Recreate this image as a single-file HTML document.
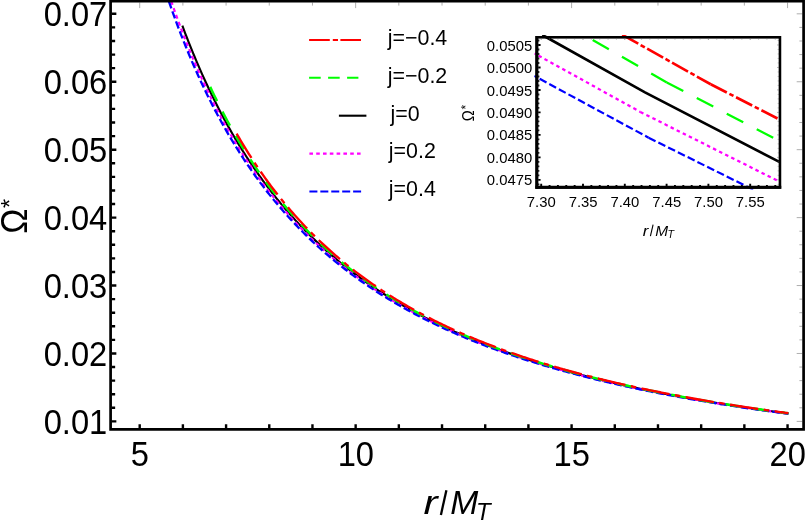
<!DOCTYPE html>
<html><head><meta charset="utf-8"><title>plot</title>
<style>html,body{margin:0;padding:0;background:#fff}body{width:806px;height:521px;overflow:hidden;font-family:"Liberation Sans",sans-serif}svg{display:block;will-change:transform}</style>
</head><body>
<svg width="806" height="521" viewBox="0 0 806 521">
<rect width="806" height="521" fill="#fff"/>
<path d="M139.70 2.50v5.60M182.89 2.50v3.10M226.08 2.50v3.10M269.27 2.50v3.10M312.46 2.50v3.10M355.65 2.50v5.60M398.84 2.50v3.10M442.03 2.50v3.10M485.22 2.50v3.10M528.41 2.50v3.10M571.60 2.50v5.60M614.79 2.50v3.10M657.98 2.50v3.10M701.17 2.50v3.10M744.36 2.50v3.10M787.55 2.50v5.60M802.30 421.40h-5.60M802.30 407.81h-2.90M802.30 394.23h-2.90M802.30 380.64h-2.90M802.30 367.06h-2.90M802.30 353.47h-5.60M802.30 339.88h-2.90M802.30 326.30h-2.90M802.30 312.71h-2.90M802.30 299.13h-2.90M802.30 285.54h-5.60M802.30 271.95h-2.90M802.30 258.37h-2.90M802.30 244.78h-2.90M802.30 231.20h-2.90M802.30 217.61h-5.60M802.30 204.02h-2.90M802.30 190.44h-2.90M802.30 176.85h-2.90M802.30 163.27h-2.90M802.30 149.68h-5.60M802.30 136.09h-2.90M802.30 122.51h-2.90M802.30 108.92h-2.90M802.30 95.34h-2.90M802.30 81.75h-5.60M802.30 68.16h-2.90M802.30 54.58h-2.90M802.30 40.99h-2.90M802.30 27.41h-2.90M802.30 13.82h-5.60" stroke="#777" stroke-width="0.6" fill="none"/>
<g fill="none">
<path d="M182.37 25.73 L183.89 29.78 L185.40 33.76 L186.92 37.69 L188.43 41.57 L189.95 45.38 L191.46 49.15 L192.98 52.86 L194.49 56.52 L196.01 60.12 L197.52 63.68 L199.04 67.19 L200.55 70.65 L202.07 74.07 L203.58 77.43 L205.10 80.76 L206.61 84.03 L208.13 87.27 L209.64 90.46 L211.16 93.61 L212.67 96.72 L214.19 99.79 L215.70 102.82 L217.22 105.81 L218.73 108.76 L220.25 111.67 L221.76 114.55 L223.28 117.39 L224.79 120.19 L226.31 122.96 L227.82 125.70 L229.34 128.40 L230.86 131.06 L232.37 133.70 L233.89 136.30 L235.40 138.87 L236.92 141.41 L238.43 143.92 L239.95 146.40 L241.46 148.85 L242.98 151.27 L244.49 153.67 L246.01 156.03 L247.52 158.37 L249.04 160.68 L250.55 162.96 L252.07 165.22 L253.58 167.45 L255.10 169.65 L256.61 171.83 L258.13 173.99 L259.64 176.12 L261.16 178.23 L262.67 180.31 L264.19 182.37 L265.70 184.41 L267.22 186.42 L268.73 188.42 L270.25 190.39 L271.76 192.34 L273.28 194.27 L274.79 196.18 L276.31 198.06 L277.82 199.93 L279.34 201.78 L280.85 203.61 L282.37 205.42 L283.88 207.21 L285.40 208.98 L286.91 210.73 L288.43 212.46 L289.94 214.18 L291.46 215.88 L292.97 217.56 L294.49 219.22 L296.00 220.87 L297.52 222.50 L299.03 224.12 L300.55 225.71 L302.07 227.30 L303.58 228.86 L305.10 230.41 L306.61 231.95 L308.13 233.47 L309.64 234.98 L311.16 236.47 L312.67 237.94 L314.19 239.40 L315.70 240.85 L317.22 242.29 L318.73 243.71 L320.25 245.11 L321.76 246.51 L323.28 247.89 L324.79 249.25 L326.31 250.61 L327.82 251.95 L329.34 253.28 L330.85 254.59 L332.37 255.90 L333.88 257.19 L335.40 258.47 L336.91 259.74 L338.43 261.00 L339.94 262.24 L341.46 263.48 L342.97 264.70 L344.49 265.91 L346.00 267.11 L347.52 268.30 L349.03 269.48 L350.55 270.65 L352.06 271.81 L353.58 272.96 L355.09 274.10 L356.61 275.23 L358.12 276.35 L359.64 277.46 L361.15 278.56 L362.67 279.65 L364.18 280.73 L365.70 281.80 L367.21 282.86 L368.73 283.92 L370.24 284.96 L371.76 286.00 L373.27 287.03 L374.79 288.04 L376.31 289.05 L377.82 290.06 L379.34 291.05 L380.85 292.03 L382.37 293.01 L383.88 293.98 L385.40 294.94 L386.91 295.89 L388.43 296.84 L389.94 297.78 L391.46 298.71 L392.97 299.63 L394.49 300.54 L396.00 301.45 L397.52 302.35 L399.03 303.25 L400.55 304.13 L402.06 305.01 L403.58 305.88 L405.09 306.75 L406.61 307.61 L408.12 308.46 L409.64 309.30 L411.15 310.14 L412.67 310.98 L414.18 311.80 L415.70 312.62 L417.21 313.43 L418.73 314.24 L420.24 315.04 L421.76 315.84 L423.27 316.63 L424.79 317.41 L426.30 318.19 L427.82 318.96 L429.33 319.72 L430.85 320.48 L432.36 321.24 L433.88 321.98 L435.39 322.73 L436.91 323.46 L438.42 324.20 L439.94 324.92 L441.45 325.64 L442.97 326.36 L444.48 327.07 L446.00 327.78 L447.52 328.48 L449.03 329.17 L450.55 329.86 L452.06 330.55 L453.58 331.23 L455.09 331.90 L456.61 332.57 L458.12 333.24 L459.64 333.90 L461.15 334.56 L462.67 335.21 L464.18 335.86 L465.70 336.50 L467.21 337.14 L468.73 337.78 L470.24 338.41 L471.76 339.03 L473.27 339.65 L474.79 340.27 L476.30 340.88 L477.82 341.49 L479.33 342.09 L480.85 342.69 L482.36 343.29 L483.88 343.88 L485.39 344.47 L486.91 345.05 L488.42 345.64 L489.94 346.21 L491.45 346.78 L492.97 347.35 L494.48 347.92 L496.00 348.48 L497.51 349.04 L499.03 349.59 L500.54 350.14 L502.06 350.69 L503.57 351.23 L505.09 351.77 L506.60 352.31 L508.12 352.84 L509.63 353.37 L511.15 353.89 L512.66 354.42 L514.18 354.93 L515.69 355.45 L517.21 355.96 L518.73 356.47 L520.24 356.98 L521.76 357.48 L523.27 357.98 L524.79 358.48 L526.30 358.97 L527.82 359.46 L529.33 359.95 L530.85 360.43 L532.36 360.91 L533.88 361.39 L535.39 361.86 L536.91 362.34 L538.42 362.81 L539.94 363.27 L541.45 363.74 L542.97 364.20 L544.48 364.65 L546.00 365.11 L547.51 365.56 L549.03 366.01 L550.54 366.46 L552.06 366.90 L553.57 367.34 L555.09 367.78 L556.60 368.22 L558.12 368.65 L559.63 369.08 L561.15 369.51 L562.66 369.94 L564.18 370.36 L565.69 370.78 L567.21 371.20 L568.72 371.62 L570.24 372.03 L571.75 372.44 L573.27 372.85 L574.78 373.26 L576.30 373.66 L577.81 374.06 L579.33 374.46 L580.84 374.86 L582.36 375.25 L583.87 375.65 L585.39 376.04 L586.90 376.42 L588.42 376.81 L589.94 377.19 L591.45 377.58 L592.97 377.96 L594.48 378.33 L596.00 378.71 L597.51 379.08 L599.03 379.45 L600.54 379.82 L602.06 380.19 L603.57 380.55 L605.09 380.91 L606.60 381.27 L608.12 381.63 L609.63 381.99 L611.15 382.34 L612.66 382.70 L614.18 383.05 L615.69 383.40 L617.21 383.74 L618.72 384.09 L620.24 384.43 L621.75 384.77 L623.27 385.11 L624.78 385.45 L626.30 385.79 L627.81 386.12 L629.33 386.45 L630.84 386.78 L632.36 387.11 L633.87 387.44 L635.39 387.76 L636.90 388.09 L638.42 388.41 L639.93 388.73 L641.45 389.05 L642.96 389.36 L644.48 389.68 L645.99 389.99 L647.51 390.30 L649.02 390.62 L650.54 390.92 L652.05 391.23 L653.57 391.54 L655.08 391.84 L656.60 392.14 L658.11 392.44 L659.63 392.74 L661.14 393.04 L662.66 393.33 L664.18 393.63 L665.69 393.92 L667.21 394.21 L668.72 394.50 L670.24 394.79 L671.75 395.08 L673.27 395.37 L674.78 395.65 L676.30 395.93 L677.81 396.21 L679.33 396.49 L680.84 396.77 L682.36 397.05 L683.87 397.32 L685.39 397.60 L686.90 397.87 L688.42 398.14 L689.93 398.41 L691.45 398.68 L692.96 398.95 L694.48 399.22 L695.99 399.48 L697.51 399.75 L699.02 400.01 L700.54 400.27 L702.05 400.53 L703.57 400.79 L705.08 401.05 L706.60 401.30 L708.11 401.56 L709.63 401.81 L711.14 402.06 L712.66 402.31 L714.17 402.56 L715.69 402.81 L717.20 403.06 L718.72 403.31 L720.23 403.55 L721.75 403.80 L723.26 404.04 L724.78 404.28 L726.29 404.52 L727.81 404.76 L729.32 405.00 L730.84 405.24 L732.35 405.47 L733.87 405.71 L735.39 405.94 L736.90 406.18 L738.42 406.41 L739.93 406.64 L741.45 406.87 L742.96 407.10 L744.48 407.33 L745.99 407.55 L747.51 407.78 L749.02 408.00 L750.54 408.23 L752.05 408.45 L753.57 408.67 L755.08 408.89 L756.60 409.11 L758.11 409.33 L759.63 409.54 L761.14 409.76 L762.66 409.98 L764.17 410.19 L765.69 410.40 L767.20 410.62 L768.72 410.83 L770.23 411.04 L771.75 411.25 L773.26 411.46 L774.78 411.67 L776.29 411.87 L777.81 412.08 L779.32 412.28 L780.84 412.49 L782.35 412.69 L783.87 412.89 L785.38 413.10 L786.90 413.30 L788.41 413.50" stroke="#000" stroke-width="2.15"/>
<path d="M171.23 1.20 L172.77 5.67 L174.32 10.06 L175.86 14.39 L177.40 18.66 L178.95 22.86 L180.49 27.01 L182.03 31.09 L183.58 35.11 L185.12 39.07 L186.66 42.98 L188.20 46.83 L189.75 50.62 L191.29 54.36 L192.83 58.05 L194.38 61.69 L195.92 65.27 L197.46 68.81 L199.00 72.30 L200.55 75.74 L202.09 79.13 L203.63 82.48 L205.18 85.78 L206.72 89.04 L208.26 92.25 L209.81 95.42 L211.35 98.55 L212.89 101.64 L214.43 104.69 L215.98 107.70 L217.52 110.66 L219.06 113.60 L220.61 116.49 L222.15 119.35 L223.69 122.17 L225.23 124.95 L226.78 127.70 L228.32 130.42 L229.86 133.10 L231.41 135.75 L232.95 138.36 L234.49 140.95 L236.04 143.50 L237.58 146.02 L239.12 148.51 L240.66 150.97 L242.21 153.40 L243.75 155.81 L245.29 158.18 L246.84 160.53 L248.38 162.85 L249.92 165.14 L251.47 167.40 L253.01 169.64 L254.55 171.86 L256.09 174.04 L257.64 176.21 L259.18 178.35 L260.72 180.46 L262.27 182.55 L263.81 184.62 L265.35 186.66 L266.89 188.68 L268.44 190.68 L269.98 192.66 L271.52 194.61 L273.07 196.55 L274.61 198.46 L276.15 200.35 L277.70 202.22 L279.24 204.07 L280.78 205.91 L282.32 207.72 L283.87 209.51 L285.41 211.28 L286.95 213.04 L288.50 214.78 L290.04 216.50 L291.58 218.20 L293.13 219.88 L294.67 221.55 L296.21 223.20 L297.75 224.83 L299.30 226.45 L300.84 228.04 L302.38 229.63 L303.93 231.20 L305.47 232.75 L307.01 234.28 L308.55 235.80 L310.10 237.31 L311.64 238.80 L313.18 240.28 L314.73 241.74 L316.27 243.19 L317.81 244.62 L319.36 246.04 L320.90 247.45 L322.44 248.84 L323.98 250.22 L325.53 251.59 L327.07 252.94 L328.61 254.28 L330.16 255.61 L331.70 256.92 L333.24 258.23 L334.78 259.52 L336.33 260.80 L337.87 262.07 L339.41 263.32 L340.96 264.57 L342.50 265.80 L344.04 267.02 L345.59 268.23 L347.13 269.43 L348.67 270.62 L350.21 271.80 L351.76 272.97 L353.30 274.12 L354.84 275.27 L356.39 276.41 L357.93 277.53 L359.47 278.65 L361.02 279.76 L362.56 280.86 L364.10 281.94 L365.64 283.02 L367.19 284.09 L368.73 285.15 L370.27 286.20 L371.82 287.25 L373.36 288.28 L374.90 289.30 L376.44 290.32 L377.99 291.33 L379.53 292.33 L381.07 293.32 L382.62 294.30 L384.16 295.27 L385.70 296.24 L387.25 297.20 L388.79 298.15 L390.33 299.09 L391.87 300.02 L393.42 300.95 L394.96 301.87 L396.50 302.78 L398.05 303.69 L399.59 304.58 L401.13 305.47 L402.67 306.36 L404.22 307.23 L405.76 308.10 L407.30 308.96 L408.85 309.82 L410.39 310.67 L411.93 311.51 L413.48 312.34 L415.02 313.17 L416.56 314.00 L418.10 314.81 L419.65 315.62 L421.19 316.42 L422.73 317.22 L424.28 318.01 L425.82 318.80 L427.36 319.58 L428.91 320.35 L430.45 321.12 L431.99 321.88 L433.53 322.64 L435.08 323.39 L436.62 324.13 L438.16 324.87 L439.71 325.60 L441.25 326.33 L442.79 327.05 L444.33 327.77 L445.88 328.48 L447.42 329.19 L448.96 329.89 L450.51 330.59 L452.05 331.28 L453.59 331.97 L455.14 332.65 L456.68 333.33 L458.22 334.00 L459.76 334.67 L461.31 335.33 L462.85 335.99 L464.39 336.64 L465.94 337.29 L467.48 337.93 L469.02 338.57 L470.56 339.21 L472.11 339.84 L473.65 340.46 L475.19 341.08 L476.74 341.70 L478.28 342.31 L479.82 342.92 L481.37 343.53 L482.91 344.13 L484.45 344.72 L485.99 345.32 L487.54 345.90 L489.08 346.49 L490.62 347.07 L492.17 347.65 L493.71 348.22 L495.25 348.79 L496.80 349.35 L498.34 349.91 L499.88 350.47 L501.42 351.02 L502.97 351.57 L504.51 352.12 L506.05 352.66 L507.60 353.20 L509.14 353.74 L510.68 354.27 L512.22 354.80 L513.77 355.32 L515.31 355.85 L516.85 356.37 L518.40 356.88 L519.94 357.39 L521.48 357.90 L523.03 358.41 L524.57 358.91 L526.11 359.41 L527.65 359.90 L529.20 360.40 L530.74 360.88 L532.28 361.37 L533.83 361.85 L535.37 362.33 L536.91 362.81 L538.45 363.29 L540.00 363.76 L541.54 364.23 L543.08 364.69 L544.63 365.15 L546.17 365.61 L547.71 366.07 L549.26 366.52 L550.80 366.98 L552.34 367.42 L553.88 367.87 L555.43 368.31 L556.97 368.75 L558.51 369.19 L560.06 369.63 L561.60 370.06 L563.14 370.49 L564.69 370.92 L566.23 371.34 L567.77 371.76 L569.31 372.18 L570.86 372.60 L572.40 373.02 L573.94 373.43 L575.49 373.84 L577.03 374.25 L578.57 374.65 L580.11 375.05 L581.66 375.45 L583.20 375.85 L584.74 376.25 L586.29 376.64 L587.83 377.03 L589.37 377.42 L590.92 377.81 L592.46 378.19 L594.00 378.58 L595.54 378.96 L597.09 379.33 L598.63 379.71 L600.17 380.08 L601.72 380.45 L603.26 380.82 L604.80 381.19 L606.35 381.56 L607.89 381.92 L609.43 382.28 L610.97 382.64 L612.52 383.00 L614.06 383.35 L615.60 383.71 L617.15 384.06 L618.69 384.41 L620.23 384.75 L621.77 385.10 L623.32 385.44 L624.86 385.78 L626.40 386.12 L627.95 386.46 L629.49 386.80 L631.03 387.13 L632.58 387.47 L634.12 387.80 L635.66 388.13 L637.20 388.45 L638.75 388.78 L640.29 389.10 L641.83 389.42 L643.38 389.74 L644.92 390.06 L646.46 390.38 L648.00 390.69 L649.55 391.01 L651.09 391.32 L652.63 391.63 L654.18 391.94 L655.72 392.24 L657.26 392.55 L658.81 392.85 L660.35 393.16 L661.89 393.46 L663.43 393.76 L664.98 394.05 L666.52 394.35 L668.06 394.64 L669.61 394.94 L671.15 395.23 L672.69 395.52 L674.24 395.81 L675.78 396.09 L677.32 396.38 L678.86 396.66 L680.41 396.94 L681.95 397.23 L683.49 397.51 L685.04 397.78 L686.58 398.06 L688.12 398.34 L689.66 398.61 L691.21 398.88 L692.75 399.15 L694.29 399.42 L695.84 399.69 L697.38 399.96 L698.92 400.23 L700.47 400.49 L702.01 400.75 L703.55 401.02 L705.09 401.28 L706.64 401.54 L708.18 401.79 L709.72 402.05 L711.27 402.31 L712.81 402.56 L714.35 402.81 L715.89 403.07 L717.44 403.32 L718.98 403.57 L720.52 403.82 L722.07 404.06 L723.61 404.31 L725.15 404.55 L726.70 404.80 L728.24 405.04 L729.78 405.28 L731.32 405.52 L732.87 405.76 L734.41 406.00 L735.95 406.23 L737.50 406.47 L739.04 406.71 L740.58 406.94 L742.13 407.17 L743.67 407.40 L745.21 407.63 L746.75 407.86 L748.30 408.09 L749.84 408.32 L751.38 408.54 L752.93 408.77 L754.47 408.99 L756.01 409.21 L757.55 409.44 L759.10 409.66 L760.64 409.88 L762.18 410.09 L763.73 410.31 L765.27 410.53 L766.81 410.74 L768.36 410.96 L769.90 411.17 L771.44 411.39 L772.98 411.60 L774.53 411.81 L776.07 412.02 L777.61 412.23 L779.16 412.44 L780.70 412.64 L782.24 412.85 L783.78 413.05 L785.33 413.26 L786.87 413.46 L788.41 413.66" stroke="#ff00ff" stroke-width="2.2" stroke-dasharray="4 3.3"/>
<path d="M168.82 1.20 L170.37 5.66 L171.92 10.05 L173.47 14.38 L175.02 18.65 L176.56 22.85 L178.11 26.99 L179.66 31.06 L181.21 35.08 L182.76 39.04 L184.31 42.95 L185.86 46.80 L187.41 50.59 L188.96 54.33 L190.51 58.02 L192.05 61.65 L193.60 65.24 L195.15 68.77 L196.70 72.26 L198.25 75.70 L199.80 79.09 L201.35 82.44 L202.90 85.74 L204.45 89.00 L206.00 92.21 L207.54 95.38 L209.09 98.51 L210.64 101.60 L212.19 104.65 L213.74 107.66 L215.29 110.63 L216.84 113.56 L218.39 116.46 L219.94 119.31 L221.49 122.13 L223.03 124.92 L224.58 127.67 L226.13 130.39 L227.68 133.07 L229.23 135.72 L230.78 138.34 L232.33 140.92 L233.88 143.48 L235.43 146.00 L236.98 148.49 L238.52 150.96 L240.07 153.39 L241.62 155.79 L243.17 158.17 L244.72 160.52 L246.27 162.84 L247.82 165.13 L249.37 167.40 L250.92 169.64 L252.47 171.85 L254.01 174.04 L255.56 176.21 L257.11 178.35 L258.66 180.46 L260.21 182.56 L261.76 184.62 L263.31 186.67 L264.86 188.69 L266.41 190.69 L267.95 192.67 L269.50 194.63 L271.05 196.56 L272.60 198.48 L274.15 200.37 L275.70 202.24 L277.25 204.10 L278.80 205.93 L280.35 207.75 L281.90 209.54 L283.44 211.32 L284.99 213.07 L286.54 214.81 L288.09 216.53 L289.64 218.24 L291.19 219.92 L292.74 221.59 L294.29 223.24 L295.84 224.87 L297.39 226.49 L298.93 228.09 L300.48 229.68 L302.03 231.25 L303.58 232.80 L305.13 234.34 L306.68 235.86 L308.23 237.37 L309.78 238.86 L311.33 240.34 L312.88 241.80 L314.42 243.25 L315.97 244.69 L317.52 246.11 L319.07 247.52 L320.62 248.91 L322.17 250.29 L323.72 251.66 L325.27 253.01 L326.82 254.36 L328.37 255.69 L329.91 257.00 L331.46 258.31 L333.01 259.60 L334.56 260.88 L336.11 262.15 L337.66 263.41 L339.21 264.65 L340.76 265.89 L342.31 267.11 L343.86 268.32 L345.40 269.52 L346.95 270.71 L348.50 271.89 L350.05 273.06 L351.60 274.22 L353.15 275.37 L354.70 276.51 L356.25 277.63 L357.80 278.75 L359.35 279.86 L360.89 280.96 L362.44 282.05 L363.99 283.13 L365.54 284.20 L367.09 285.26 L368.64 286.31 L370.19 287.35 L371.74 288.39 L373.29 289.41 L374.83 290.43 L376.38 291.44 L377.93 292.44 L379.48 293.43 L381.03 294.41 L382.58 295.39 L384.13 296.36 L385.68 297.31 L387.23 298.27 L388.78 299.21 L390.32 300.14 L391.87 301.07 L393.42 301.99 L394.97 302.90 L396.52 303.81 L398.07 304.71 L399.62 305.60 L401.17 306.48 L402.72 307.36 L404.27 308.23 L405.81 309.09 L407.36 309.95 L408.91 310.80 L410.46 311.64 L412.01 312.48 L413.56 313.31 L415.11 314.13 L416.66 314.95 L418.21 315.76 L419.76 316.56 L421.30 317.36 L422.85 318.15 L424.40 318.94 L425.95 319.72 L427.50 320.49 L429.05 321.26 L430.60 322.02 L432.15 322.78 L433.70 323.53 L435.25 324.27 L436.79 325.01 L438.34 325.75 L439.89 326.48 L441.44 327.20 L442.99 327.92 L444.54 328.63 L446.09 329.34 L447.64 330.04 L449.19 330.74 L450.74 331.43 L452.28 332.12 L453.83 332.80 L455.38 333.48 L456.93 334.15 L458.48 334.82 L460.03 335.48 L461.58 336.14 L463.13 336.79 L464.68 337.44 L466.22 338.08 L467.77 338.72 L469.32 339.36 L470.87 339.99 L472.42 340.62 L473.97 341.24 L475.52 341.86 L477.07 342.47 L478.62 343.08 L480.17 343.68 L481.71 344.29 L483.26 344.88 L484.81 345.48 L486.36 346.06 L487.91 346.65 L489.46 347.23 L491.01 347.81 L492.56 348.38 L494.11 348.95 L495.66 349.51 L497.20 350.07 L498.75 350.63 L500.30 351.19 L501.85 351.74 L503.40 352.28 L504.95 352.83 L506.50 353.37 L508.05 353.90 L509.60 354.43 L511.15 354.96 L512.69 355.49 L514.24 356.01 L515.79 356.53 L517.34 357.05 L518.89 357.56 L520.44 358.07 L521.99 358.57 L523.54 359.07 L525.09 359.57 L526.64 360.07 L528.18 360.56 L529.73 361.05 L531.28 361.54 L532.83 362.02 L534.38 362.50 L535.93 362.98 L537.48 363.45 L539.03 363.93 L540.58 364.39 L542.13 364.86 L543.67 365.32 L545.22 365.78 L546.77 366.24 L548.32 366.69 L549.87 367.15 L551.42 367.59 L552.97 368.04 L554.52 368.48 L556.07 368.92 L557.62 369.36 L559.16 369.80 L560.71 370.23 L562.26 370.66 L563.81 371.09 L565.36 371.51 L566.91 371.94 L568.46 372.36 L570.01 372.77 L571.56 373.19 L573.10 373.60 L574.65 374.01 L576.20 374.42 L577.75 374.82 L579.30 375.23 L580.85 375.63 L582.40 376.03 L583.95 376.42 L585.50 376.81 L587.05 377.21 L588.59 377.60 L590.14 377.98 L591.69 378.37 L593.24 378.75 L594.79 379.13 L596.34 379.51 L597.89 379.88 L599.44 380.26 L600.99 380.63 L602.54 381.00 L604.08 381.37 L605.63 381.73 L607.18 382.09 L608.73 382.45 L610.28 382.81 L611.83 383.17 L613.38 383.53 L614.93 383.88 L616.48 384.23 L618.03 384.58 L619.57 384.93 L621.12 385.27 L622.67 385.62 L624.22 385.96 L625.77 386.30 L627.32 386.64 L628.87 386.97 L630.42 387.31 L631.97 387.64 L633.52 387.97 L635.06 388.30 L636.61 388.63 L638.16 388.95 L639.71 389.28 L641.26 389.60 L642.81 389.92 L644.36 390.24 L645.91 390.55 L647.46 390.87 L649.01 391.18 L650.55 391.49 L652.10 391.80 L653.65 392.11 L655.20 392.42 L656.75 392.72 L658.30 393.03 L659.85 393.33 L661.40 393.63 L662.95 393.93 L664.50 394.23 L666.04 394.52 L667.59 394.82 L669.14 395.11 L670.69 395.40 L672.24 395.69 L673.79 395.98 L675.34 396.27 L676.89 396.55 L678.44 396.84 L679.98 397.12 L681.53 397.40 L683.08 397.68 L684.63 397.96 L686.18 398.23 L687.73 398.51 L689.28 398.78 L690.83 399.06 L692.38 399.33 L693.93 399.60 L695.47 399.87 L697.02 400.13 L698.57 400.40 L700.12 400.66 L701.67 400.93 L703.22 401.19 L704.77 401.45 L706.32 401.71 L707.87 401.97 L709.42 402.22 L710.96 402.48 L712.51 402.73 L714.06 402.99 L715.61 403.24 L717.16 403.49 L718.71 403.74 L720.26 403.99 L721.81 404.24 L723.36 404.48 L724.91 404.73 L726.45 404.97 L728.00 405.21 L729.55 405.45 L731.10 405.69 L732.65 405.93 L734.20 406.17 L735.75 406.41 L737.30 406.64 L738.85 406.88 L740.40 407.11 L741.94 407.34 L743.49 407.57 L745.04 407.80 L746.59 408.03 L748.14 408.26 L749.69 408.49 L751.24 408.71 L752.79 408.94 L754.34 409.16 L755.89 409.38 L757.43 409.61 L758.98 409.83 L760.53 410.05 L762.08 410.26 L763.63 410.48 L765.18 410.70 L766.73 410.91 L768.28 411.13 L769.83 411.34 L771.37 411.56 L772.92 411.77 L774.47 411.98 L776.02 412.19 L777.57 412.40 L779.12 412.60 L780.67 412.81 L782.22 413.02 L783.77 413.22 L785.32 413.43 L786.86 413.63 L788.41 413.83" stroke="#0000ff" stroke-width="2.3" stroke-dasharray="7.6 3.1"/>
<path d="M210.19 86.88 L211.63 89.94 L213.08 92.97 L214.52 95.95 L215.97 98.90 L217.41 101.82 L218.86 104.69 L220.31 107.53 L221.75 110.34 L223.20 113.11 L224.64 115.85 L226.09 118.55 L227.53 121.22 L228.98 123.86 L230.42 126.47 L231.87 129.05 L233.32 131.60 L234.76 134.11 L236.21 136.60 L237.65 139.06 L239.10 141.49 L240.54 143.89 L241.99 146.27 L243.43 148.62 L244.88 150.94 L246.33 153.23 L247.77 155.50 L249.22 157.74 L250.66 159.96 L252.11 162.16 L253.55 164.32 L255.00 166.47 L256.44 168.59 L257.89 170.69 L259.34 172.77 L260.78 174.82 L262.23 176.85 L263.67 178.86 L265.12 180.85 L266.56 182.82 L268.01 184.76 L269.45 186.69 L270.90 188.59 L272.35 190.48 L273.79 192.34 L275.24 194.19 L276.68 196.02 L278.13 197.82 L279.57 199.61 L281.02 201.38 L282.46 203.14 L283.91 204.87 L285.36 206.59 L286.80 208.29 L288.25 209.98 L289.69 211.64 L291.14 213.29 L292.58 214.93 L294.03 216.55 L295.47 218.15 L296.92 219.74 L298.37 221.31 L299.81 222.86 L301.26 224.40 L302.70 225.93 L304.15 227.44 L305.59 228.94 L307.04 230.42 L308.48 231.89 L309.93 233.35 L311.38 234.79 L312.82 236.22 L314.27 237.63 L315.71 239.03 L317.16 240.42 L318.60 241.80 L320.05 243.16 L321.49 244.51 L322.94 245.85 L324.39 247.17 L325.83 248.49 L327.28 249.79 L328.72 251.08 L330.17 252.36 L331.61 253.63 L333.06 254.88 L334.51 256.13 L335.95 257.36 L337.40 258.58 L338.84 259.80 L340.29 261.00 L341.73 262.19 L343.18 263.37 L344.62 264.54 L346.07 265.70 L347.52 266.85 L348.96 267.99 L350.41 269.13 L351.85 270.25 L353.30 271.36 L354.74 272.46 L356.19 273.56 L357.63 274.64 L359.08 275.71 L360.53 276.78 L361.97 277.84 L363.42 278.89 L364.86 279.93 L366.31 280.96 L367.75 281.98 L369.20 283.00 L370.64 284.00 L372.09 285.00 L373.54 285.99 L374.98 286.97 L376.43 287.95 L377.87 288.91 L379.32 289.87 L380.76 290.82 L382.21 291.77 L383.65 292.70 L385.10 293.63 L386.55 294.55 L387.99 295.47 L389.44 296.38 L390.88 297.28 L392.33 298.17 L393.77 299.05 L395.22 299.93 L396.66 300.81 L398.11 301.67 L399.56 302.53 L401.00 303.38 L402.45 304.23 L403.89 305.07 L405.34 305.90 L406.78 306.73 L408.23 307.55 L409.67 308.37 L411.12 309.18 L412.57 309.98 L414.01 310.77 L415.46 311.57 L416.90 312.35 L418.35 313.13 L419.79 313.90 L421.24 314.67 L422.68 315.43 L424.13 316.19 L425.58 316.94 L427.02 317.69 L428.47 318.43 L429.91 319.16 L431.36 319.89 L432.80 320.62 L434.25 321.34 L435.69 322.05 L437.14 322.76 L438.59 323.47 L440.03 324.17 L441.48 324.86 L442.92 325.55 L444.37 326.24 L445.81 326.92 L447.26 327.59 L448.71 328.26 L450.15 328.93 L451.60 329.59 L453.04 330.25 L454.49 330.90 L455.93 331.55 L457.38 332.19 L458.82 332.83 L460.27 333.47 L461.72 334.10 L463.16 334.72 L464.61 335.35 L466.05 335.96 L467.50 336.58 L468.94 337.19 L470.39 337.79 L471.83 338.39 L473.28 338.99 L474.73 339.59 L476.17 340.18 L477.62 340.76 L479.06 341.34 L480.51 341.92 L481.95 342.50 L483.40 343.07 L484.84 343.64 L486.29 344.20 L487.74 344.76 L489.18 345.32 L490.63 345.87 L492.07 346.42 L493.52 346.96 L494.96 347.51 L496.41 348.05 L497.85 348.58 L499.30 349.11 L500.75 349.64 L502.19 350.17 L503.64 350.69 L505.08 351.21 L506.53 351.72 L507.97 352.24 L509.42 352.75 L510.86 353.25 L512.31 353.75 L513.76 354.25 L515.20 354.75 L516.65 355.25 L518.09 355.74 L519.54 356.22 L520.98 356.71 L522.43 357.19 L523.87 357.67 L525.32 358.15 L526.77 358.62 L528.21 359.09 L529.66 359.56 L531.10 360.02 L532.55 360.48 L533.99 360.94 L535.44 361.40 L536.88 361.85 L538.33 362.30 L539.78 362.75 L541.22 363.20 L542.67 363.64 L544.11 364.08 L545.56 364.52 L547.00 364.96 L548.45 365.39 L549.89 365.82 L551.34 366.25 L552.79 366.67 L554.23 367.10 L555.68 367.52 L557.12 367.94 L558.57 368.35 L560.01 368.77 L561.46 369.18 L562.90 369.59 L564.35 369.99 L565.80 370.40 L567.24 370.80 L568.69 371.20 L570.13 371.60 L571.58 371.99 L573.02 372.38 L574.47 372.77 L575.92 373.16 L577.36 373.55 L578.81 373.93 L580.25 374.32 L581.70 374.70 L583.14 375.07 L584.59 375.45 L586.03 375.82 L587.48 376.20 L588.93 376.57 L590.37 376.93 L591.82 377.30 L593.26 377.66 L594.71 378.02 L596.15 378.38 L597.60 378.74 L599.04 379.10 L600.49 379.45 L601.94 379.81 L603.38 380.16 L604.83 380.50 L606.27 380.85 L607.72 381.20 L609.16 381.54 L610.61 381.88 L612.05 382.22 L613.50 382.56 L614.95 382.89 L616.39 383.23 L617.84 383.56 L619.28 383.89 L620.73 384.22 L622.17 384.55 L623.62 384.87 L625.06 385.20 L626.51 385.52 L627.96 385.84 L629.40 386.16 L630.85 386.47 L632.29 386.79 L633.74 387.10 L635.18 387.42 L636.63 387.73 L638.07 388.04 L639.52 388.34 L640.97 388.65 L642.41 388.95 L643.86 389.26 L645.30 389.56 L646.75 389.86 L648.19 390.16 L649.64 390.45 L651.08 390.75 L652.53 391.04 L653.98 391.34 L655.42 391.63 L656.87 391.92 L658.31 392.20 L659.76 392.49 L661.20 392.78 L662.65 393.06 L664.09 393.34 L665.54 393.62 L666.99 393.90 L668.43 394.18 L669.88 394.46 L671.32 394.74 L672.77 395.01 L674.21 395.28 L675.66 395.56 L677.10 395.83 L678.55 396.10 L680.00 396.36 L681.44 396.63 L682.89 396.90 L684.33 397.16 L685.78 397.42 L687.22 397.68 L688.67 397.94 L690.12 398.20 L691.56 398.46 L693.01 398.72 L694.45 398.97 L695.90 399.23 L697.34 399.48 L698.79 399.73 L700.23 399.98 L701.68 400.23 L703.13 400.48 L704.57 400.73 L706.02 400.97 L707.46 401.22 L708.91 401.46 L710.35 401.71 L711.80 401.95 L713.24 402.19 L714.69 402.43 L716.14 402.67 L717.58 402.90 L719.03 403.14 L720.47 403.37 L721.92 403.61 L723.36 403.84 L724.81 404.07 L726.25 404.30 L727.70 404.53 L729.15 404.76 L730.59 404.99 L732.04 405.22 L733.48 405.44 L734.93 405.67 L736.37 405.89 L737.82 406.11 L739.26 406.34 L740.71 406.56 L742.16 406.78 L743.60 406.99 L745.05 407.21 L746.49 407.43 L747.94 407.65 L749.38 407.86 L750.83 408.07 L752.27 408.29 L753.72 408.50 L755.17 408.71 L756.61 408.92 L758.06 409.13 L759.50 409.34 L760.95 409.55 L762.39 409.75 L763.84 409.96 L765.28 410.16 L766.73 410.37 L768.18 410.57 L769.62 410.77 L771.07 410.97 L772.51 411.18 L773.96 411.37 L775.40 411.57 L776.85 411.77 L778.29 411.97 L779.74 412.17 L781.19 412.36 L782.63 412.56 L784.08 412.75 L785.52 412.94 L786.97 413.13 L788.41 413.33" stroke="#00ff00" stroke-width="2.5" stroke-dasharray="15.8 11.82"/>
<path d="M236.36 133.17 L237.74 135.56 L239.12 137.93 L240.50 140.27 L241.88 142.59 L243.26 144.88 L244.64 147.14 L246.02 149.38 L247.40 151.60 L248.78 153.79 L250.16 155.96 L251.54 158.10 L252.92 160.22 L254.30 162.32 L255.68 164.40 L257.06 166.45 L258.44 168.48 L259.82 170.49 L261.20 172.48 L262.58 174.45 L263.96 176.40 L265.34 178.33 L266.72 180.24 L268.10 182.13 L269.48 184.00 L270.86 185.85 L272.24 187.69 L273.62 189.50 L275.00 191.30 L276.38 193.08 L277.76 194.84 L279.14 196.58 L280.52 198.31 L281.90 200.02 L283.28 201.71 L284.66 203.39 L286.04 205.04 L287.42 206.69 L288.80 208.32 L290.18 209.93 L291.56 211.53 L292.94 213.11 L294.32 214.67 L295.71 216.23 L297.09 217.76 L298.47 219.29 L299.85 220.79 L301.23 222.29 L302.61 223.77 L303.99 225.24 L305.37 226.69 L306.75 228.13 L308.13 229.56 L309.51 230.97 L310.89 232.37 L312.27 233.76 L313.65 235.14 L315.03 236.50 L316.41 237.85 L317.79 239.19 L319.17 240.52 L320.55 241.83 L321.93 243.14 L323.31 244.43 L324.69 245.71 L326.07 246.98 L327.45 248.24 L328.83 249.49 L330.21 250.73 L331.59 251.96 L332.97 253.17 L334.35 254.38 L335.73 255.58 L337.11 256.76 L338.49 257.94 L339.87 259.10 L341.25 260.26 L342.63 261.40 L344.01 262.54 L345.39 263.67 L346.77 264.79 L348.15 265.90 L349.53 267.00 L350.91 268.09 L352.29 269.17 L353.67 270.24 L355.05 271.31 L356.43 272.36 L357.81 273.41 L359.19 274.45 L360.57 275.48 L361.95 276.50 L363.33 277.51 L364.71 278.52 L366.09 279.52 L367.47 280.51 L368.85 281.49 L370.23 282.46 L371.61 283.43 L372.99 284.39 L374.37 285.34 L375.75 286.29 L377.13 287.23 L378.51 288.16 L379.89 289.08 L381.27 289.99 L382.65 290.90 L384.03 291.81 L385.41 292.70 L386.79 293.59 L388.17 294.47 L389.55 295.35 L390.93 296.22 L392.31 297.08 L393.69 297.93 L395.07 298.78 L396.46 299.63 L397.84 300.46 L399.22 301.29 L400.60 302.12 L401.98 302.94 L403.36 303.75 L404.74 304.56 L406.12 305.36 L407.50 306.15 L408.88 306.94 L410.26 307.73 L411.64 308.51 L413.02 309.28 L414.40 310.05 L415.78 310.81 L417.16 311.56 L418.54 312.31 L419.92 313.06 L421.30 313.80 L422.68 314.54 L424.06 315.27 L425.44 315.99 L426.82 316.71 L428.20 317.43 L429.58 318.14 L430.96 318.84 L432.34 319.54 L433.72 320.24 L435.10 320.93 L436.48 321.61 L437.86 322.30 L439.24 322.97 L440.62 323.65 L442.00 324.31 L443.38 324.98 L444.76 325.64 L446.14 326.29 L447.52 326.94 L448.90 327.59 L450.28 328.23 L451.66 328.87 L453.04 329.50 L454.42 330.13 L455.80 330.75 L457.18 331.37 L458.56 331.99 L459.94 332.60 L461.32 333.21 L462.70 333.82 L464.08 334.42 L465.46 335.01 L466.84 335.61 L468.22 336.20 L469.60 336.78 L470.98 337.36 L472.36 337.94 L473.74 338.52 L475.12 339.09 L476.50 339.65 L477.88 340.22 L479.26 340.78 L480.64 341.34 L482.02 341.89 L483.40 342.44 L484.78 342.98 L486.16 343.53 L487.54 344.07 L488.92 344.60 L490.30 345.14 L491.68 345.67 L493.06 346.19 L494.44 346.72 L495.82 347.24 L497.21 347.75 L498.59 348.27 L499.97 348.78 L501.35 349.29 L502.73 349.79 L504.11 350.29 L505.49 350.79 L506.87 351.29 L508.25 351.78 L509.63 352.27 L511.01 352.75 L512.39 353.24 L513.77 353.72 L515.15 354.20 L516.53 354.67 L517.91 355.15 L519.29 355.62 L520.67 356.08 L522.05 356.55 L523.43 357.01 L524.81 357.47 L526.19 357.92 L527.57 358.38 L528.95 358.83 L530.33 359.28 L531.71 359.72 L533.09 360.17 L534.47 360.61 L535.85 361.05 L537.23 361.48 L538.61 361.92 L539.99 362.35 L541.37 362.77 L542.75 363.20 L544.13 363.62 L545.51 364.05 L546.89 364.47 L548.27 364.88 L549.65 365.30 L551.03 365.71 L552.41 366.12 L553.79 366.53 L555.17 366.93 L556.55 367.33 L557.93 367.74 L559.31 368.13 L560.69 368.53 L562.07 368.92 L563.45 369.32 L564.83 369.71 L566.21 370.09 L567.59 370.48 L568.97 370.86 L570.35 371.25 L571.73 371.63 L573.11 372.00 L574.49 372.38 L575.87 372.75 L577.25 373.12 L578.63 373.49 L580.01 373.86 L581.39 374.23 L582.77 374.59 L584.15 374.95 L585.53 375.31 L586.91 375.67 L588.29 376.03 L589.67 376.38 L591.05 376.73 L592.43 377.09 L593.81 377.43 L595.19 377.78 L596.57 378.13 L597.95 378.47 L599.34 378.81 L600.72 379.15 L602.10 379.49 L603.48 379.83 L604.86 380.16 L606.24 380.49 L607.62 380.83 L609.00 381.16 L610.38 381.48 L611.76 381.81 L613.14 382.13 L614.52 382.46 L615.90 382.78 L617.28 383.10 L618.66 383.42 L620.04 383.73 L621.42 384.05 L622.80 384.36 L624.18 384.68 L625.56 384.99 L626.94 385.29 L628.32 385.60 L629.70 385.91 L631.08 386.21 L632.46 386.52 L633.84 386.82 L635.22 387.12 L636.60 387.41 L637.98 387.71 L639.36 388.01 L640.74 388.30 L642.12 388.59 L643.50 388.89 L644.88 389.18 L646.26 389.46 L647.64 389.75 L649.02 390.04 L650.40 390.32 L651.78 390.60 L653.16 390.89 L654.54 391.17 L655.92 391.45 L657.30 391.72 L658.68 392.00 L660.06 392.27 L661.44 392.55 L662.82 392.82 L664.20 393.09 L665.58 393.36 L666.96 393.63 L668.34 393.90 L669.72 394.16 L671.10 394.43 L672.48 394.69 L673.86 394.96 L675.24 395.22 L676.62 395.48 L678.00 395.74 L679.38 395.99 L680.76 396.25 L682.14 396.51 L683.52 396.76 L684.90 397.01 L686.28 397.26 L687.66 397.52 L689.04 397.77 L690.42 398.01 L691.80 398.26 L693.18 398.51 L694.56 398.75 L695.94 399.00 L697.32 399.24 L698.70 399.48 L700.09 399.72 L701.47 399.96 L702.85 400.20 L704.23 400.44 L705.61 400.67 L706.99 400.91 L708.37 401.14 L709.75 401.38 L711.13 401.61 L712.51 401.84 L713.89 402.07 L715.27 402.30 L716.65 402.53 L718.03 402.76 L719.41 402.98 L720.79 403.21 L722.17 403.43 L723.55 403.66 L724.93 403.88 L726.31 404.10 L727.69 404.32 L729.07 404.54 L730.45 404.76 L731.83 404.98 L733.21 405.19 L734.59 405.41 L735.97 405.62 L737.35 405.84 L738.73 406.05 L740.11 406.26 L741.49 406.47 L742.87 406.68 L744.25 406.89 L745.63 407.10 L747.01 407.31 L748.39 407.52 L749.77 407.72 L751.15 407.93 L752.53 408.13 L753.91 408.33 L755.29 408.54 L756.67 408.74 L758.05 408.94 L759.43 409.14 L760.81 409.34 L762.19 409.54 L763.57 409.73 L764.95 409.93 L766.33 410.13 L767.71 410.32 L769.09 410.52 L770.47 410.71 L771.85 410.90 L773.23 411.10 L774.61 411.29 L775.99 411.48 L777.37 411.67 L778.75 411.85 L780.13 412.04 L781.51 412.23 L782.89 412.42 L784.27 412.60 L785.65 412.79 L787.03 412.97 L788.41 413.16" stroke="#ff0000" stroke-width="2.35" stroke-dasharray="28.5 5.5 5.5 5.5" stroke-dashoffset="-0.5"/>
</g>
<g stroke="#000" fill="none" stroke-width="2.70">
<path d="M110.60 1.20H803.60V429.30H110.60Z"/>
</g>
<path d="M111.75 421.40h4.60M111.75 407.81h3.40M111.75 394.23h3.40M111.75 380.64h3.40M111.75 367.06h3.40M111.75 353.47h4.60M111.75 339.88h3.40M111.75 326.30h3.40M111.75 312.71h3.40M111.75 299.13h3.40M111.75 285.54h4.60M111.75 271.95h3.40M111.75 258.37h3.40M111.75 244.78h3.40M111.75 231.20h3.40M111.75 217.61h4.60M111.75 204.02h3.40M111.75 190.44h3.40M111.75 176.85h3.40M111.75 163.27h3.40M111.75 149.68h4.60M111.75 136.09h3.40M111.75 122.51h3.40M111.75 108.92h3.40M111.75 95.34h3.40M111.75 81.75h4.60M111.75 68.16h3.40M111.75 54.58h3.40M111.75 40.99h3.40M111.75 27.41h3.40M111.75 13.82h4.60M139.70 428.15v-4.00M182.89 428.15v-4.00M226.08 428.15v-4.00M269.27 428.15v-4.00M312.46 428.15v-4.00M355.65 428.15v-4.00M398.84 428.15v-4.00M442.03 428.15v-4.00M485.22 428.15v-4.00M528.41 428.15v-4.00M571.60 428.15v-4.00M614.79 428.15v-4.00M657.98 428.15v-4.00M701.17 428.15v-4.00M744.36 428.15v-4.00M787.55 428.15v-4.00" stroke="#000" stroke-width="2.4" fill="none"/>
<g font-family="Liberation Sans, sans-serif" fill="#000">
<text transform="translate(107.30 433.80) scale(0.9620 1.0500)" font-size="34.00" text-anchor="end">0.01</text>
<text transform="translate(107.30 365.87) scale(0.9620 1.0500)" font-size="34.00" text-anchor="end">0.02</text>
<text transform="translate(107.30 297.94) scale(0.9620 1.0500)" font-size="34.00" text-anchor="end">0.03</text>
<text transform="translate(107.30 230.01) scale(0.9620 1.0500)" font-size="34.00" text-anchor="end">0.04</text>
<text transform="translate(107.30 162.08) scale(0.9620 1.0500)" font-size="34.00" text-anchor="end">0.05</text>
<text transform="translate(107.30 94.15) scale(0.9620 1.0500)" font-size="34.00" text-anchor="end">0.06</text>
<text transform="translate(107.30 26.22) scale(0.9620 1.0500)" font-size="34.00" text-anchor="end">0.07</text>
<text transform="translate(139.90 466.00) scale(0.9620 1.0500)" font-size="34.00" text-anchor="middle">5</text>
<text transform="translate(355.85 466.00) scale(0.9620 1.0500)" font-size="34.00" text-anchor="middle">10</text>
<text transform="translate(571.80 466.00) scale(0.9620 1.0500)" font-size="34.00" text-anchor="middle">15</text>
<text transform="translate(787.75 466.00) scale(0.9620 1.0500)" font-size="34.00" text-anchor="middle">20</text>
<text transform="translate(423.50 513.80) scale(1.3000 1.0000)" font-size="32.50" text-anchor="start" font-style="italic">r</text>
<text transform="translate(450.20 513.80) scale(1.0200 1.0000)" font-size="33.00" text-anchor="start" font-style="italic">M</text>
<text transform="translate(476.00 520.00) scale(1.0300 1.0000)" font-size="23.20" text-anchor="start" font-style="italic">T</text>
<path d="M440.9 514.9L446.4 490.3" stroke="#000" stroke-width="2.3" fill="none"/>
</g>
<g font-family="Liberation Sans, sans-serif" fill="#000" transform="translate(27.2 233.8) rotate(-90)">
<text x="0" y="0" font-size="36.3" textLength="25.2" lengthAdjust="spacingAndGlyphs">&#937;</text>
<text x="25.8" y="-9.6" font-size="23.5">*</text>
</g>
<g fill="none" stroke-width="2.1">
<path d="M309.1 40H361" stroke="#ff0000" stroke-dasharray="20.7 3 5.2 2.4"/>
<path d="M309.1 77.8H358.4" stroke="#00ff00" stroke-dasharray="11.6 7.4"/>
<path d="M338.9 115.7H366.4" stroke="#000"/>
<path d="M309.4 153.6H361.1" stroke="#ff00ff" stroke-dasharray="3.6 3.2"/>
<path d="M309.4 191.5H361.1" stroke="#0000ff" stroke-dasharray="8 2.93"/>
</g>
<g font-family="Liberation Sans, sans-serif" font-size="21.4" fill="#000">
<text x="387.8" y="45.3">j=&#8722;0.4</text>
<text x="387.8" y="83">j=&#8722;0.2</text>
<text x="390.6" y="120.8">j=0</text>
<text x="388.8" y="158.4">j=0.2</text>
<text x="388.8" y="195.9">j=0.4</text>
</g>
<rect x="536.90" y="37.30" width="242.90" height="150.00" fill="#fff"/>
<clipPath id="ic"><rect x="534.2" y="35.1" width="247.6" height="154.5"/></clipPath>
<g fill="none" clip-path="url(#ic)">
<path d="M534.3 75.9 L648.6 137.7" stroke="#0000ff" stroke-width="2.2" stroke-dasharray="7.75 3.15" stroke-dashoffset="4.78"/>
<path d="M648.6 137.7 L755 190.5" stroke="#0000ff" stroke-width="2.2" stroke-dasharray="7.75 3.15"/>
<path d="M534.5 53.4 L640.3 111.94" stroke="#ff00ff" stroke-width="2.25" stroke-dasharray="3.5 3.27" stroke-dashoffset="2.11"/>
<path d="M640.3 111.94 L779.8 181.8" stroke="#ff00ff" stroke-width="2.25" stroke-dasharray="3.5 3.28"/>
<path d="M542.3 35 L545.0 36.5 L645 92.3 L779.8 162.2" stroke="#000" stroke-width="2.6"/>
<path d="M592.7 40 L666.8 82.4" stroke="#00ff00" stroke-width="2.25" stroke-dasharray="18.6 15.1"/>
<path d="M666.8 82.4 L779.8 141.3" stroke="#00ff00" stroke-width="2.25" stroke-dasharray="18.6 15.2"/>
<path d="M622.3 34.8 L710.7 84.25" stroke="#ff0000" stroke-width="2.6" stroke-dasharray="18.3 2.7 4.8 2.7"/>
<path d="M710.7 84.25 L779.8 119.7" stroke="#ff0000" stroke-width="2.6" stroke-dasharray="18.1 2.9 4.6 2.9"/>
</g>
<rect x="536.7" y="37.3" width="243.25" height="150.2" fill="none" stroke="#000" stroke-width="2.6"/>
<path d="M536.9 36V188.8" stroke="#000" stroke-width="3.0" fill="none"/>
<path d="M535.4 187.32H781.25" stroke="#000" stroke-width="2.95" fill="none"/>
<path d="M538.17 184.35h1.15M538.17 179.85h2.40M538.17 175.35h1.15M538.17 170.86h1.15M538.17 166.36h1.15M538.17 161.87h1.15M538.17 157.37h2.40M538.17 152.87h1.15M538.17 148.38h1.15M538.17 143.88h1.15M538.17 139.39h1.15M538.17 134.89h2.40M538.17 130.39h1.15M538.17 125.90h1.15M538.17 121.40h1.15M538.17 116.91h1.15M538.17 112.41h2.40M538.17 107.91h1.15M538.17 103.42h1.15M538.17 98.92h1.15M538.17 94.43h1.15M538.17 89.93h2.40M538.17 85.43h1.15M538.17 80.94h1.15M538.17 76.44h1.15M538.17 71.95h1.15M538.17 67.45h2.40M538.17 62.95h1.15M538.17 58.46h1.15M538.17 53.96h1.15M538.17 49.47h1.15M538.17 44.97h2.40M538.17 40.47h1.15M541.20 186.03v-2.30M549.56 186.03v-0.95M557.92 186.03v-0.95M566.28 186.03v-0.95M574.64 186.03v-0.95M583.00 186.03v-2.30M591.36 186.03v-0.95M599.72 186.03v-0.95M608.08 186.03v-0.95M616.44 186.03v-0.95M624.80 186.03v-2.30M633.16 186.03v-0.95M641.52 186.03v-0.95M649.88 186.03v-0.95M658.24 186.03v-0.95M666.60 186.03v-2.30M674.96 186.03v-0.95M683.32 186.03v-0.95M691.68 186.03v-0.95M700.04 186.03v-0.95M708.40 186.03v-2.30M716.76 186.03v-0.95M725.12 186.03v-0.95M733.48 186.03v-0.95M741.84 186.03v-0.95M750.20 186.03v-2.30M758.56 186.03v-0.95M766.92 186.03v-0.95M775.28 186.03v-0.95" stroke="#000" stroke-width="1.9" fill="none"/>
<path d="M541.20 38.50v1.30M549.56 38.50v0.90M557.92 38.50v0.90M566.28 38.50v0.90M574.64 38.50v0.90M583.00 38.50v1.30M591.36 38.50v0.90M599.72 38.50v0.90M608.08 38.50v0.90M616.44 38.50v0.90M624.80 38.50v1.30M633.16 38.50v0.90M641.52 38.50v0.90M649.88 38.50v0.90M658.24 38.50v0.90M666.60 38.50v1.30M674.96 38.50v0.90M683.32 38.50v0.90M691.68 38.50v0.90M700.04 38.50v0.90M708.40 38.50v1.30M716.76 38.50v0.90M725.12 38.50v0.90M733.48 38.50v0.90M741.84 38.50v0.90M750.20 38.50v1.30M758.56 38.50v0.90M766.92 38.50v0.90M775.28 38.50v0.90M778.70 184.35h-0.90M778.70 179.85h-1.30M778.70 175.35h-0.90M778.70 170.86h-0.90M778.70 166.36h-0.90M778.70 161.87h-0.90M778.70 157.37h-1.30M778.70 152.87h-0.90M778.70 148.38h-0.90M778.70 143.88h-0.90M778.70 139.39h-0.90M778.70 134.89h-1.30M778.70 130.39h-0.90M778.70 125.90h-0.90M778.70 121.40h-0.90M778.70 116.91h-0.90M778.70 112.41h-1.30M778.70 107.91h-0.90M778.70 103.42h-0.90M778.70 98.92h-0.90M778.70 94.43h-0.90M778.70 89.93h-1.30M778.70 85.43h-0.90M778.70 80.94h-0.90M778.70 76.44h-0.90M778.70 71.95h-0.90M778.70 67.45h-1.30M778.70 62.95h-0.90M778.70 58.46h-0.90M778.70 53.96h-0.90M778.70 49.47h-0.90M778.70 44.97h-1.30M778.70 40.47h-0.90" stroke="#666" stroke-width="0.8" fill="none"/>
<g font-family="Liberation Sans, sans-serif" fill="#000">
<text transform="translate(532.20 185.45) scale(0.9650 1.0000)" font-size="15.40" text-anchor="end">0.0475</text>
<text transform="translate(532.20 162.97) scale(0.9650 1.0000)" font-size="15.40" text-anchor="end">0.0480</text>
<text transform="translate(532.20 140.49) scale(0.9650 1.0000)" font-size="15.40" text-anchor="end">0.0485</text>
<text transform="translate(532.20 118.01) scale(0.9650 1.0000)" font-size="15.40" text-anchor="end">0.0490</text>
<text transform="translate(532.20 95.53) scale(0.9650 1.0000)" font-size="15.40" text-anchor="end">0.0495</text>
<text transform="translate(532.20 73.05) scale(0.9650 1.0000)" font-size="15.40" text-anchor="end">0.0500</text>
<text transform="translate(532.20 50.57) scale(0.9650 1.0000)" font-size="15.40" text-anchor="end">0.0505</text>
<text transform="translate(541.30 207.30) scale(0.9650 1.0000)" font-size="15.40" text-anchor="middle">7.30</text>
<text transform="translate(583.10 207.30) scale(0.9650 1.0000)" font-size="15.40" text-anchor="middle">7.35</text>
<text transform="translate(624.90 207.30) scale(0.9650 1.0000)" font-size="15.40" text-anchor="middle">7.40</text>
<text transform="translate(666.70 207.30) scale(0.9650 1.0000)" font-size="15.40" text-anchor="middle">7.45</text>
<text transform="translate(708.50 207.30) scale(0.9650 1.0000)" font-size="15.40" text-anchor="middle">7.50</text>
<text transform="translate(750.30 207.30) scale(0.9650 1.0000)" font-size="15.40" text-anchor="middle">7.55</text>
<text transform="translate(642.80 235.60) scale(1.2000 1.0000)" font-size="14.10" text-anchor="start" font-style="italic">r</text>
<text transform="translate(655.20 235.60) scale(1.0800 1.0000)" font-size="14.30" text-anchor="start" font-style="italic">M</text>
<text transform="translate(667.60 237.50) scale(1.0500 1.0000)" font-size="10.20" text-anchor="start" font-style="italic">T</text>
<path d="M650.4 236.1L653.1 224.7" stroke="#000" stroke-width="1.1" fill="none"/>
</g>
<g font-family="Liberation Sans, sans-serif" fill="#000" transform="translate(474.2 121.2) rotate(-90)">
<text x="0" y="0" font-size="15.9" textLength="11" lengthAdjust="spacingAndGlyphs">&#937;</text>
<text x="11.6" y="-4.6" font-size="12">*</text>
</g>
</svg>
</body></html>
